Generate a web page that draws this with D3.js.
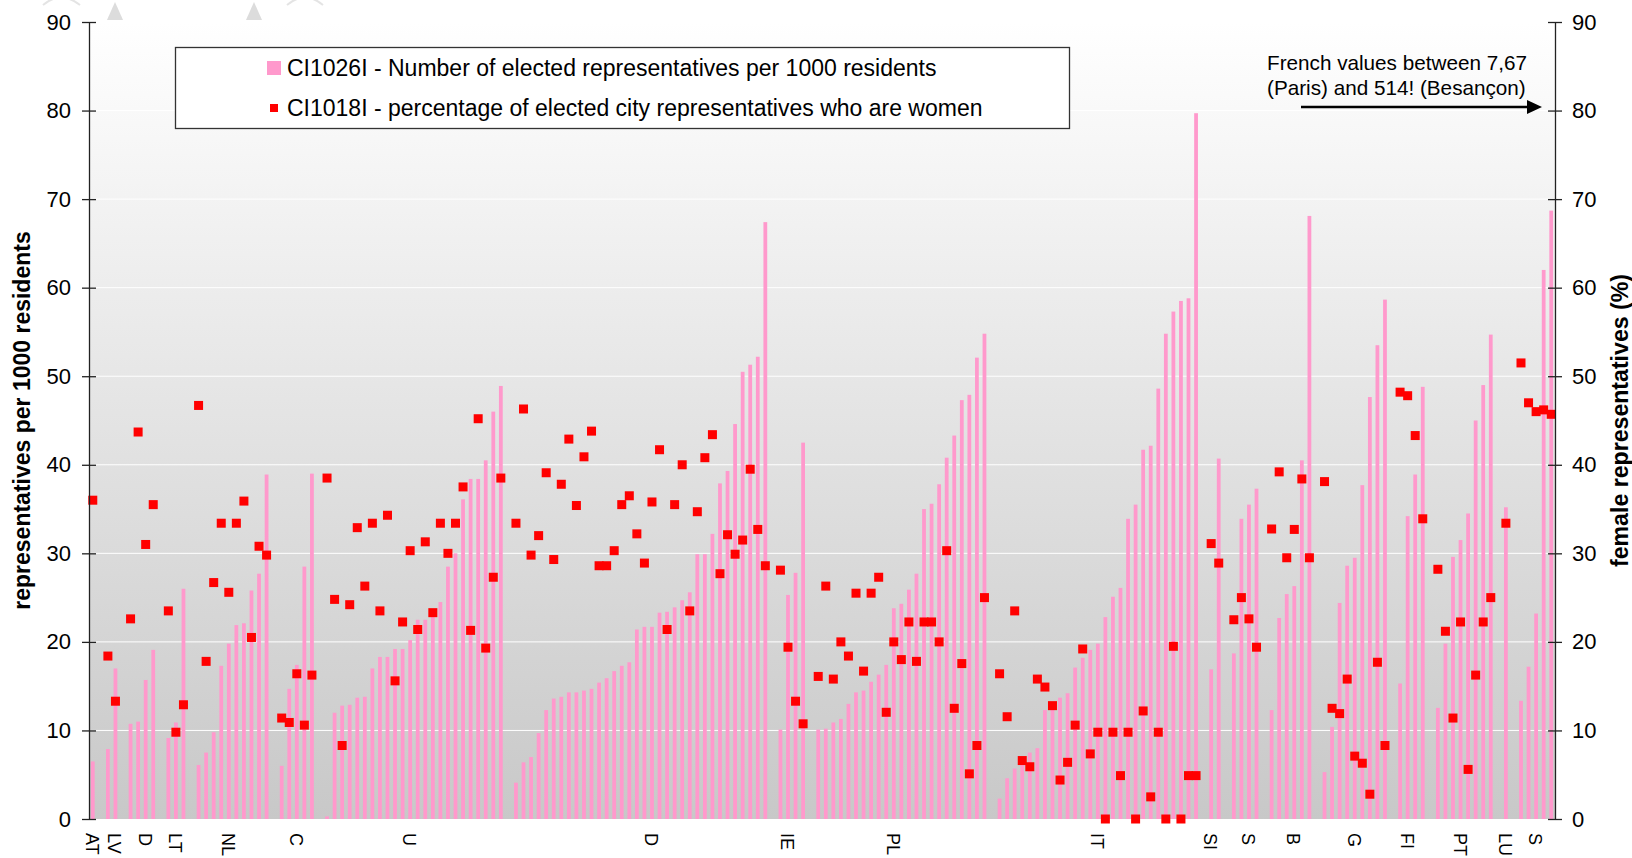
<!DOCTYPE html>
<html>
<head>
<meta charset="utf-8">
<script src="https://cdn.jsdelivr.net/npm/d3@7"></script>
<style>
  body { margin: 0; background: #fff; }
  text { font-family: "Liberation Sans", Arial, sans-serif; }
</style>
</head>
<body>
<div id="container"></div>
<script>
// one entry per city slot, null where there is a gap between countries
let repsPer1000 = [
  6.5, null, 7.9, 17.0, null, 10.75, 11.0, 15.7, 19.1, null,
  9.15, 10.9, 26.0, null, 6.1, 7.5, 9.8, 17.3, 19.8, 21.9,
  22.1, 25.8, 27.7, 38.9, null, 6.0, 14.7, 17.4, 28.5, 39.0,
  null, 0.3, 12.0, 12.8, 12.9, 13.7, 13.8, 17.0, 18.3, 18.3,
  19.2, 19.2, 20.2, 22.5, 22.5, 23.2, 24.5, 28.5, 30.0, 36.1,
  38.4, 38.4, 40.5, 46.0, 48.9, null, 4.1, 6.4, 7.0, 9.7,
  12.3, 13.6, 13.8, 14.3, 14.3, 14.5, 14.7, 15.4, 15.9, 16.7,
  17.3, 17.7, 21.4, 21.7, 21.7, 23.3, 23.4, 23.9, 24.7, 25.6,
  29.9, 29.9, 32.2, 37.9, 39.3, 44.6, 50.5, 51.3, 52.2, 67.4,
  null, 10.1, 25.3, 27.8, 42.5, null, 10.1, 10.2, 10.9, 11.3,
  13.0, 14.3, 14.5, 15.5, 16.3, 17.4, 23.8, 24.3, 25.9, 27.7,
  35.0, 35.6, 37.8, 40.8, 43.3, 47.3, 47.9, 52.1, 54.8, null,
  2.3, 4.6, 5.7, 6.5, 7.5, 8.0, 12.3, 12.4, 13.7, 14.2,
  17.1, 18.2, 19.1, 19.8, 22.8, 25.1, 26.1, 33.9, 35.5, 41.7,
  42.15, 48.6, 54.8, 57.3, 58.5, 58.8, 79.7, null, 16.9, 40.7,
  null, 18.7, 33.9, 35.5, 37.3, null, 12.3, 22.7, 25.4, 26.3,
  40.5, 68.1, null, 5.3, 10.4, 24.4, 28.6, 29.5, 37.7, 47.65,
  53.5, 58.65, null, 15.3, 34.2, 38.9, 48.8, null, 12.55, 19.8,
  29.6, 31.5, 34.5, 45.0, 49.0, 54.7, null, 35.2, null, 13.35,
  17.2, 23.2, 62.0, 68.7
];

let womenPct = [
  36.0, null, 18.4, 13.3, null, 22.6, 43.7, 31.0, 35.5, null,
  23.5, 9.8, 12.9, null, 46.7, 17.8, 26.7, 33.4, 25.6, 33.4,
  35.9, 20.5, 30.8, 29.8, null, 11.4, 10.9, 16.4, 10.6, 16.25,
  null, 38.5, 24.8, 8.3, 24.2, 32.9, 26.3, 33.4, 23.5, 34.3,
  15.6, 22.25, 30.3, 21.4, 31.3, 23.3, 33.4, 30.0, 33.4, 37.5,
  21.3, 45.2, 19.3, 27.3, 38.5, null, 33.4, 46.3, 29.8, 32.0,
  39.1, 29.3, 37.8, 42.9, 35.4, 40.9, 43.8, 28.6, 28.6, 30.3,
  35.5, 36.5, 32.2, 28.9, 35.8, 41.7, 21.4, 35.5, 40.0, 23.5,
  34.7, 40.8, 43.4, 27.7, 32.1, 29.9, 31.5, 39.5, 32.7, 28.6,
  null, 28.1, 19.4, 13.3, 10.75, null, 16.1, 26.3, 15.8, 20.0,
  18.4, 25.5, 16.7, 25.5, 27.3, 12.05, 20.0, 18.0, 22.25, 17.8,
  22.25, 22.25, 20.0, 30.3, 12.5, 17.55, 5.1, 8.3, 25.0, null,
  16.4, 11.55, 23.5, 6.6, 5.9, 15.8, 14.9, 12.8, 4.4, 6.4,
  10.6, 19.2, 7.35, 9.8, 0, 9.8, 4.9, 9.8, 0, 12.2,
  2.5, 9.8, 0, 19.5, 0, 4.9, 4.9, null, 31.1, 28.9,
  null, 22.5, 25.0, 22.6, 19.4, null, 32.75, 39.2, 29.5, 32.7,
  38.4, 29.5, null, 38.1, 12.5, 11.9, 15.8, 7.1, 6.3, 2.8,
  17.7, 8.3, null, 48.2, 47.8, 43.3, 33.9, null, 28.2, 21.2,
  11.4, 22.25, 5.6, 16.25, 22.25, 25.0, null, 33.4, null, 51.5,
  47.0, 46.0, 46.2, 45.7
];

// country code shown under one city of each group
let countryCodes = ["AT", "LV", "D", "LT", "NL", "C", "U", "D", "IE", "PL", "IT", "SI", "S", "B", "G", "FI", "PT", "LU", "S"];
let countryLabelCity = [0, 3, 7, 11, 18, 27, 42, 74, 92, 106, 133, 148, 153, 159, 167, 174, 181, 187, 191];

let yTicks = [0, 10, 20, 30, 40, 50, 60, 70, 80, 90];

let legendLabels = [
  "CI1026I - Number of elected representatives per 1000 residents",
  "CI1018I - percentage of elected city representatives who are women"
];

let categories = repsPer1000.map((d, i) => {
  let k = countryLabelCity.indexOf(i);
  return { id: i, label: k >= 0 ? countryCodes[k] : "", reps: repsPer1000[i], women: womenPct[i] };
});

let width = 1632;
let height = 858;
let plotLeft = 89, plotRight = 1555, plotTop = 22, plotBottom = 819;

let svg = d3.select("#container")
  .append("svg")
  .attr("width", width)
  .attr("height", height);

let x = d3.scaleBand()
  .domain(categories.map(d => d.id))
  .range([plotLeft, plotRight])
  .paddingInner(0.5)
  .paddingOuter(0.25);

let y = d3.scaleLinear().domain([0, 90]).range([plotBottom, plotTop]);
let yRight = d3.scaleLinear().domain([0, 90]).range([plotBottom, plotTop]);

// faint shapes peeking in at the top
let deco = svg.append("g").attr("fill", "#dcdcdc");
deco.append("path").attr("d", "M107,20 L115,2 L123,20 Z");
deco.append("path").attr("d", "M246,20 L254,2 L262,20 Z");
svg.append("path").attr("d", "M43,5 Q61,-10 80,5").attr("fill", "none").attr("stroke", "#e4e4e4").attr("stroke-width", 2);
svg.append("path").attr("d", "M287,5 Q305,-10 323,5").attr("fill", "none").attr("stroke", "#e4e4e4").attr("stroke-width", 2);

// plot background gradient
let grad = svg.append("defs").append("linearGradient")
  .attr("id", "bg").attr("x1", 0).attr("y1", 0).attr("x2", 0).attr("y2", 1);
grad.append("stop").attr("offset", "0%").attr("stop-color", "#ffffff");
grad.append("stop").attr("offset", "100%").attr("stop-color", "#c8c8c8");

svg.append("rect")
  .attr("x", plotLeft).attr("y", plotTop)
  .attr("width", plotRight - plotLeft).attr("height", plotBottom - plotTop)
  .attr("fill", "url(#bg)");

// white gridlines
svg.append("g")
  .selectAll("line")
  .data(yTicks.filter(t => t > 0))
  .enter()
  .append("line")
  .attr("x1", plotLeft).attr("x2", plotRight)
  .attr("y1", d => y(d)).attr("y2", d => y(d))
  .attr("stroke", "#ffffff")
  .attr("stroke-width", 1);

// bars
svg.append("g")
  .selectAll("rect")
  .data(categories.filter(d => d.reps != null))
  .enter()
  .append("rect")
  .attr("x", d => x(d.id))
  .attr("width", x.bandwidth())
  .attr("y", d => y(d.reps))
  .attr("height", d => y(0) - y(d.reps))
  .attr("fill", "#ff99cc");

// markers
let ms = 9;
svg.append("g")
  .selectAll("rect")
  .data(categories.filter(d => d.women != null))
  .enter()
  .append("rect")
  .attr("x", d => x(d.id) + x.bandwidth() / 2 - ms / 2)
  .attr("y", d => yRight(d.women) - ms / 2)
  .attr("width", ms)
  .attr("height", ms)
  .attr("fill", "#ff0000");

// axes
let axisLeft = d3.axisLeft(y).tickValues(yTicks).tickSizeInner(7).tickSizeOuter(0).tickPadding(11);
let axisRight = d3.axisRight(yRight).tickValues(yTicks).tickSizeInner(7).tickSizeOuter(0).tickPadding(10);

let gl = svg.append("g").attr("transform", `translate(${plotLeft},0)`).call(axisLeft);
let gr = svg.append("g").attr("transform", `translate(${plotRight},0)`).call(axisRight);

[gl, gr].forEach(g => {
  g.select(".domain").attr("stroke", "#222").attr("stroke-width", 1.3);
  g.selectAll(".tick line").attr("stroke", "#222").attr("stroke-width", 1.3);
  g.selectAll(".tick text")
    .attr("font-size", "22px")
    .attr("fill", "#000")
    .style("font-family", "'Liberation Sans', Arial, sans-serif");
});
// ticks cross the axis line
gl.selectAll(".tick line").attr("x1", 7).attr("x2", -7);
gr.selectAll(".tick line").attr("x1", -7).attr("x2", 7);

// country labels, rotated
svg.append("g")
  .selectAll("text")
  .data(categories.filter(d => d.label !== ""))
  .enter()
  .append("text")
  .attr("transform", d => `translate(${x(d.id) + x.bandwidth() / 2 - 1},833) rotate(90)`)
  .attr("text-anchor", "start")
  .attr("dominant-baseline", "central")
  .attr("font-size", "18px")
  .attr("fill", "#000")
  .text(d => d.label);

// axis titles
svg.append("text")
  .attr("transform", `translate(22,${(plotTop + plotBottom) / 2}) rotate(-90)`)
  .attr("text-anchor", "middle")
  .attr("dominant-baseline", "central")
  .attr("font-size", "23px")
  .attr("font-weight", "bold")
  .text("representatives per 1000 residents");

svg.append("text")
  .attr("transform", `translate(1620,${(plotTop + plotBottom) / 2}) rotate(-90)`)
  .attr("text-anchor", "middle")
  .attr("dominant-baseline", "central")
  .attr("font-size", "23px")
  .attr("font-weight", "bold")
  .attr("textLength", 293)
  .attr("lengthAdjust", "spacingAndGlyphs")
  .text("female representatives (%)");

// legend
let legend = svg.append("g");
legend.append("rect")
  .attr("x", 175.5).attr("y", 47.5)
  .attr("width", 894).attr("height", 81)
  .attr("fill", "#fff")
  .attr("stroke", "#333")
  .attr("stroke-width", 1.3);
legend.append("rect")
  .attr("x", 267).attr("y", 61).attr("width", 14).attr("height", 14)
  .attr("fill", "#ff99cc");
legend.append("rect")
  .attr("x", 270).attr("y", 104).attr("width", 8).attr("height", 8)
  .attr("fill", "#ff0000");
legend.selectAll("text.leg")
  .data(legendLabels)
  .enter()
  .append("text")
  .attr("class", "leg")
  .attr("x", 287)
  .attr("y", (d, i) => 76 + i * 40)
  .attr("font-size", "23px")
  .attr("fill", "#000")
  .text(d => d);

// note about French values
let note = svg.append("g");
note.append("text")
  .attr("x", 1267).attr("y", 70)
  .attr("font-size", "20.7px")
  .text("French values between 7,67");
note.append("text")
  .attr("x", 1267).attr("y", 95)
  .attr("font-size", "20.7px")
  .text("(Paris) and 514! (Besançon)");
note.append("line")
  .attr("x1", 1301).attr("x2", 1530)
  .attr("y1", 107).attr("y2", 107)
  .attr("stroke", "#000")
  .attr("stroke-width", 2.5);
note.append("path")
  .attr("d", "M1527,100 L1542,107 L1527,114 Z")
  .attr("fill", "#000");
</script>
</body>
</html>
